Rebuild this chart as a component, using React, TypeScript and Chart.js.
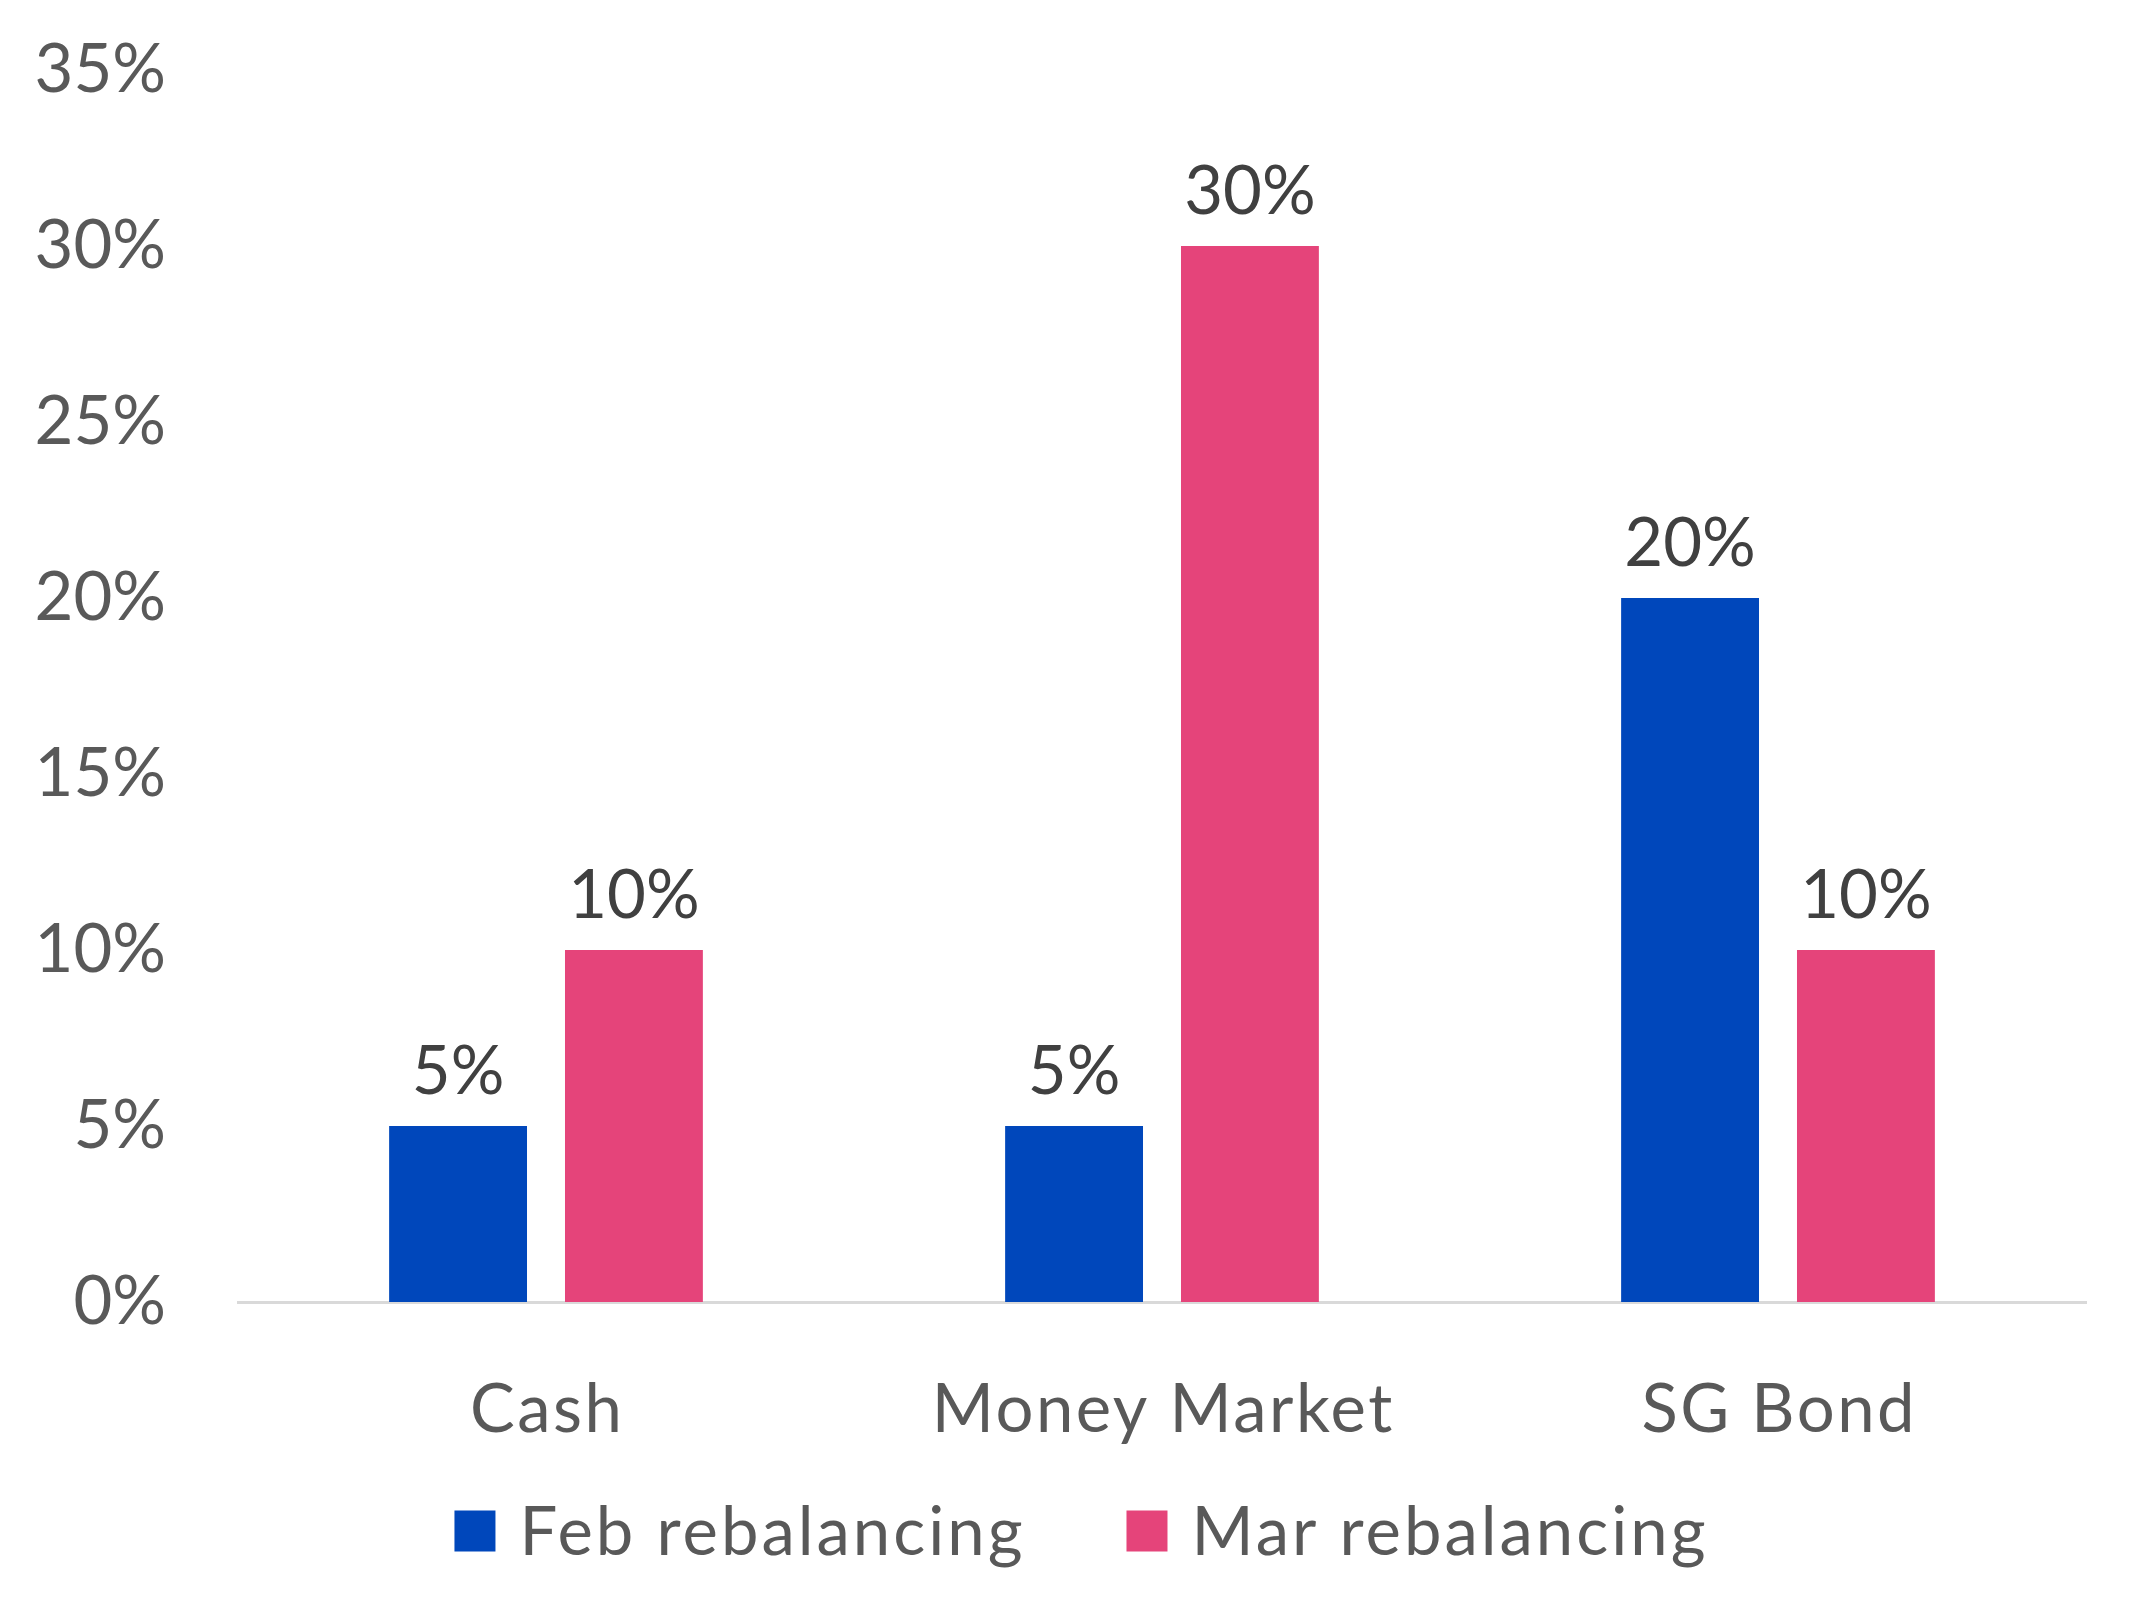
import React, { useEffect, useRef } from "react";
import { Chart, registerables } from "chart.js";

Chart.register(...registerables);

const categories = ["Cash", "Money Market", "SG Bond"];
const seriesNames = ["Feb rebalancing", "Mar rebalancing"];
const febValues = [5, 5, 20];
const marValues = [10, 30, 10];
const yTicks = [0, 5, 10, 15, 20, 25, 30, 35];

const BLUE = "#0047BB";
const PINK = "#E5447A";
const FONT = "Lato";
const FS = 67;

const dataLabelPlugin = {
  id: "dataLabels",
  afterDatasetsDraw(chart: any) {
    const ctx = chart.ctx;
    ctx.save();
    ctx.font = `400 ${FS}px ${FONT}`;
    ctx.fillStyle = "#404040";
    ctx.textAlign = "center";
    ctx.textBaseline = "alphabetic";
    chart.data.datasets.forEach((ds: any, i: number) => {
      const meta = chart.getDatasetMeta(i);
      meta.data.forEach((el: any, j: number) => {
        ctx.fillText(`${ds.data[j]}%`, el.x, el.y - 32);
      });
    });
    ctx.restore();
  },
};

const categoryLabelPlugin = {
  id: "categoryLabels",
  afterDraw(chart: any) {
    const ctx = chart.ctx;
    const xs = chart.scales.x;
    ctx.save();
    ctx.font = `400 ${FS}px ${FONT}`;
    ctx.fillStyle = "#595959";
    ctx.textAlign = "left";
    ctx.textBaseline = "alphabetic";
    (ctx as any).letterSpacing = "2.5px";
    chart.data.labels.forEach((lab: string, i: number) => {
      const w = ctx.measureText(lab).width - 2.5;
      const px = xs.getPixelForTick(i);
      ctx.fillText(lab, px - w / 2, xs.top + 130);
    });
    ctx.restore();
  },
};

const legendPlugin = {
  id: "customLegend",
  afterDraw(chart: any) {
    const ctx = chart.ctx;
    ctx.save();
    ctx.font = `400 ${FS}px ${FONT}`;
    (ctx as any).letterSpacing = "3px";
    const box = 41;
    const gap = 24;
    const itemGap = 104;
    const items = chart.data.datasets.map((ds: any) => ({
      text: ds.label,
      color: ds.backgroundColor,
      w: box + gap + ctx.measureText(ds.label).width - 3,
    }));
    const total =
      items.reduce((a: number, it: any) => a + it.w, 0) +
      itemGap * (items.length - 1);
    const cx = 1080;
    const cy = 1531;
    let x = cx - total / 2;
    items.forEach((it: any) => {
      ctx.fillStyle = it.color;
      ctx.fillRect(x, cy - box / 2, box, box);
      ctx.fillStyle = "#595959";
      ctx.textAlign = "left";
      ctx.textBaseline = "alphabetic";
      ctx.fillText(it.text, x + box + gap, cy + 24);
      x += it.w + itemGap;
    });
    ctx.restore();
  },
};

export default function App() {
  const ref = useRef<HTMLCanvasElement>(null);
  useEffect(() => {
    let chart: any = null;
    let cancelled = false;
    const make = () => {
      if (cancelled || !ref.current) return;
      chart = new Chart(ref.current, {
        type: "bar",
        data: {
          labels: categories,
          datasets: [
            {
              label: seriesNames[0],
              data: febValues,
              backgroundColor: BLUE,
              categoryPercentage: 0.571,
              barPercentage: 0.784,
            },
            {
              label: seriesNames[1],
              data: marValues,
              backgroundColor: PINK,
              categoryPercentage: 0.571,
              barPercentage: 0.784,
            },
          ],
        },
        options: {
          animation: false,
          responsive: true,
          maintainAspectRatio: false,
          layout: { padding: { top: 70, right: 51, bottom: 165, left: 0 } },
          plugins: {
            tooltip: { enabled: false },
            legend: { display: false },
          },
          scales: {
            x: {
              afterFit: (s: any) => {
                s.height = 150;
                s.paddingLeft = 0;
                s.paddingRight = 0;
              },
              grid: { display: false, drawTicks: false },
              border: { color: "#d9d9d9", width: 3 },
              ticks: { display: false },
            },
            y: {
              min: 0,
              max: 35,
              afterBuildTicks: (s: any) => {
                s.ticks = yTicks.map((v) => ({ value: v }));
              },
              afterFit: (s: any) => {
                s.width = 238;
                s.paddingTop = 0;
                s.paddingBottom = 0;
              },
              grid: { display: false, drawTicks: false },
              border: { display: false },
              ticks: {
                color: "#595959",
                font: { family: FONT, size: FS },
                padding: 72,
                callback: (v: any) => `${v}%`,
              },
            },
          },
        },
        plugins: [dataLabelPlugin, categoryLabelPlugin, legendPlugin],
      });
    };
    (document as any).fonts.load(`${FS}px ${FONT}`).then(make, make);
    return () => {
      cancelled = true;
      if (chart) chart.destroy();
    };
  }, []);
  return (
    <div
      style={{
        position: "fixed",
        left: 0,
        top: 0,
        width: 2137,
        height: 1617,
        background: "#fff",
      }}
    >
      <canvas ref={ref} />
    </div>
  );
}
